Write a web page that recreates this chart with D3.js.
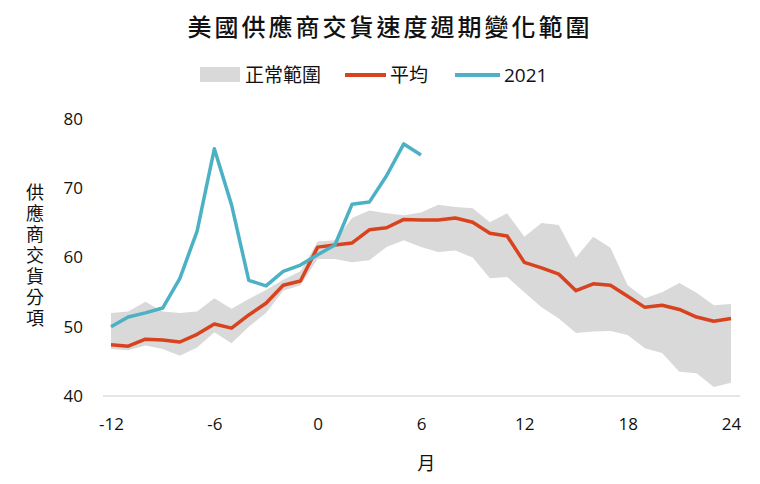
<!DOCTYPE html>
<html>
<head>
<meta charset="utf-8">
<script src="https://cdn.jsdelivr.net/npm/d3@7"></script>
<style>
  html, body { margin: 0; padding: 0; background: #fff; }
  svg { display: block; }
</style>
</head>
<body>
<svg id="chart" width="760" height="484"></svg>
<script>
// ---- data ----
const months = [-12,-11,-10,-9,-8,-7,-6,-5,-4,-3,-2,-1,0,1,2,3,4,5,6,7,8,9,10,11,12,13,14,15,16,17,18,19,20,21,22,23,24];
const avgValues = [47.4,47.2,48.2,48.1,47.8,48.9,50.4,49.8,51.7,53.4,56.0,56.6,61.5,61.8,62.1,64.0,64.3,65.5,65.4,65.4,65.7,65.1,63.5,63.1,59.3,58.5,57.6,55.2,56.2,56.0,54.4,52.8,53.1,52.5,51.4,50.8,51.2];
const rangeUpper = [52.0,52.2,53.6,52.2,52.0,52.2,54.1,52.6,54.0,55.3,56.8,58.0,62.3,62.5,65.7,66.8,66.4,66.1,66.5,67.6,67.3,67.1,65.1,66.4,63.0,65.0,64.7,60.0,63.0,61.4,56.0,54.1,55.0,56.3,54.9,53.1,53.3];
const rangeLower = [46.8,46.6,47.3,46.8,45.8,47.0,49.2,47.6,50.0,52.0,55.2,56.0,59.8,59.8,59.3,59.6,61.5,62.5,61.5,60.8,61.0,60.0,57.0,57.2,55.0,52.8,51.2,49.1,49.3,49.4,48.8,46.9,46.2,43.5,43.3,41.3,41.9];
const months2021 = [-12,-11,-10,-9,-8,-7,-6,-5,-4,-3,-2,-1,0,1,2,3,4,5,6];
const values2021 = [50.0,51.4,52.0,52.7,57.0,63.8,75.7,67.6,56.7,55.9,58.0,58.9,60.4,61.8,67.7,68.0,71.8,76.4,74.8];
const xTicks = [-12,-6,0,6,12,18,24];
const yTicks = [40,50,60,70,80];
const title = "美國供應商交貨速度週期變化範圍";
const legendLabels = ["正常範圍","平均","2021"];
const yTitle = "供應商交貨分項";
const xTitle = "月";

// ---- styles ----
const cjk = "'Noto Sans CJK TC','Noto Sans',sans-serif";
const numFont = "'Open Sans','Noto Sans',sans-serif";
const colBand = "#d9d9d9", colAvg = "#d9421f", colTeal = "#4cb1c4";

const svg = d3.select("#chart");
const x = d3.scaleLinear().domain([-12, 24]).range([111, 731]);
const y = d3.scaleLinear().domain([40, 80]).range([396, 119]);

// title
svg.append("text").attr("x", 390).attr("y", 36).attr("text-anchor", "middle")
  .attr("font-family", cjk).attr("font-size", 24).attr("font-weight", 500)
  .attr("letter-spacing", 3).attr("fill", "#111").text(title);

// legend
const lg = svg.append("g").attr("font-family", cjk).attr("font-size", 19).attr("fill", "#111");
lg.append("rect").attr("x", 200).attr("y", 67).attr("width", 40).attr("height", 15).attr("fill", colBand);
lg.append("text").attr("x", 245).attr("y", 82).text(legendLabels[0]);
lg.append("line").attr("x1", 345).attr("x2", 386).attr("y1", 75).attr("y2", 75).attr("stroke", colAvg).attr("stroke-width", 4);
lg.append("text").attr("x", 390).attr("y", 82).text(legendLabels[1]);
lg.append("line").attr("x1", 455).attr("x2", 500).attr("y1", 75).attr("y2", 75).attr("stroke", colTeal).attr("stroke-width", 4);
lg.append("text").attr("x", 504).attr("y", 82).attr("font-family", numFont).text(legendLabels[2]);

// band
const bandData = months.map((m, i) => ({m, lo: rangeLower[i], hi: rangeUpper[i]}));
svg.append("path").datum(bandData)
  .attr("d", d3.area().x(d => x(d.m)).y0(d => y(d.lo)).y1(d => y(d.hi)))
  .attr("fill", colBand);

// x axis baseline
svg.append("line").attr("x1", x(-12) - 8).attr("x2", x(24) + 9)
  .attr("y1", y(40)).attr("y2", y(40)).attr("stroke", "#dcdcdc").attr("stroke-width", 1.5);

// avg line
svg.append("path").datum(months.map((m, i) => [m, avgValues[i]]))
  .attr("d", d3.line().x(d => x(d[0])).y(d => y(d[1])))
  .attr("fill", "none").attr("stroke", colAvg).attr("stroke-width", 3.5).attr("stroke-linejoin", "round");

// 2021 line
svg.append("path").datum(months2021.map((m, i) => [m, values2021[i]]))
  .attr("d", d3.line().x(d => x(d[0])).y(d => y(d[1])))
  .attr("fill", "none").attr("stroke", colTeal).attr("stroke-width", 3.5).attr("stroke-linejoin", "round");

// axes
const xAxis = svg.append("g").attr("transform", `translate(0,${y(40)})`)
  .call(d3.axisBottom(x).tickValues(xTicks).tickSize(0).tickPadding(22).tickFormat(d => String(d)));
xAxis.select(".domain").remove();
xAxis.selectAll("text").attr("font-family", numFont).attr("font-size", 17).attr("fill", "#111");

const yAxis = svg.append("g").attr("transform", `translate(83,0)`)
  .call(d3.axisLeft(y).tickValues(yTicks).tickSize(0).tickPadding(0));
yAxis.select(".domain").remove();
yAxis.selectAll("text").attr("font-family", numFont).attr("font-size", 17).attr("fill", "#111");

// y title (vertical writing)
svg.append("text").attr("x", 35).attr("y", 183)
  .attr("font-family", cjk).attr("font-size", 18).attr("fill", "#111")
  .style("writing-mode", "vertical-rl").attr("letter-spacing", 3)
  .text(yTitle);

// x title
svg.append("text").attr("x", x(6.3)).attr("y", 470).attr("text-anchor", "middle")
  .attr("font-family", cjk).attr("font-size", 18).attr("fill", "#111").text(xTitle);
</script>
</body>
</html>
